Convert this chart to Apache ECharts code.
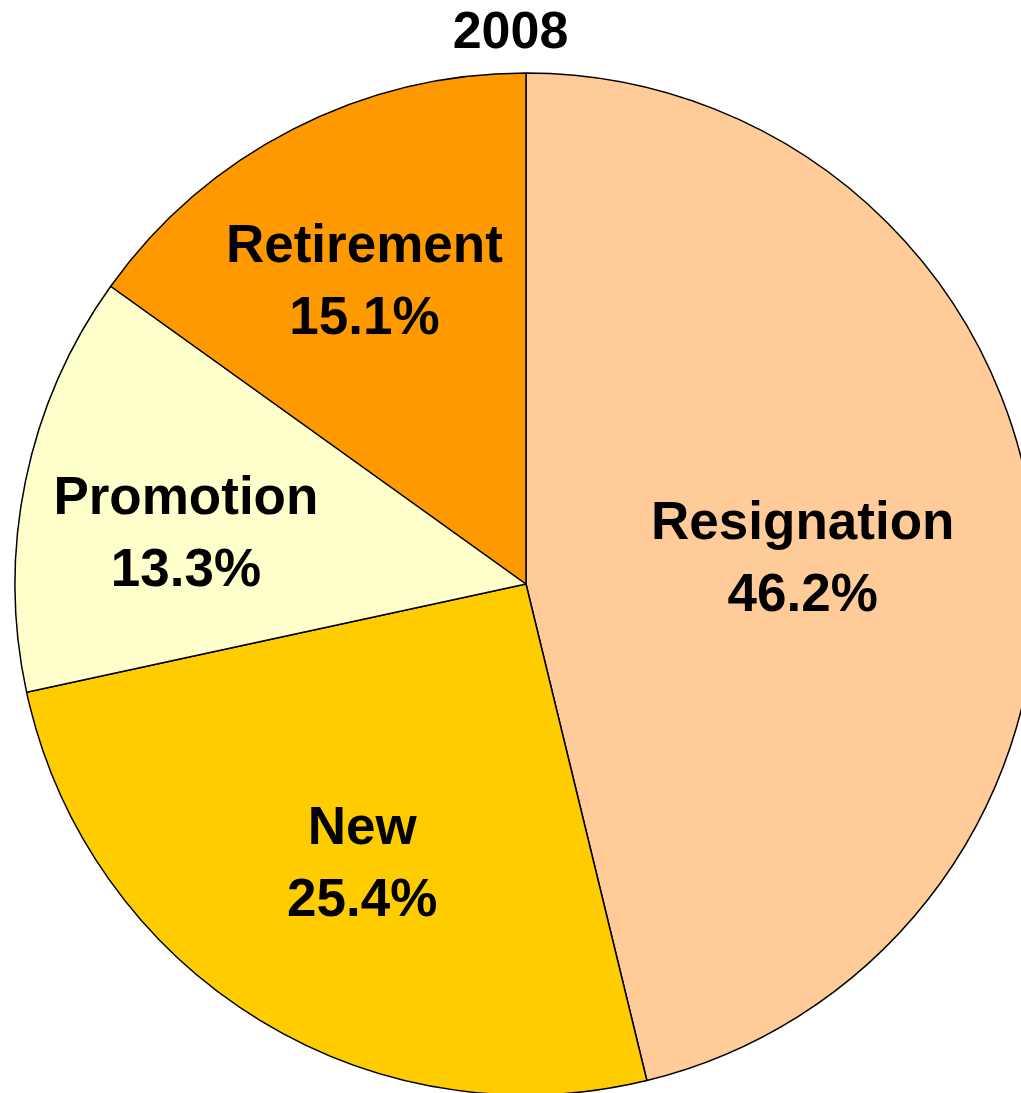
<!DOCTYPE html>
<html>
<head>
<meta charset="utf-8">
<script src="https://cdn.jsdelivr.net/npm/echarts@6/dist/echarts.min.js"></script>
<style>
  html, body { margin: 0; padding: 0; background: #ffffff; }
  #chart { width: 1021px; height: 1093px; }
</style>
</head>
<body>
<div id="chart"></div>
<script>
const title = '2008';
const categories = ['Resignation', 'New', 'Promotion', 'Retirement'];
const values = [46.2, 25.4, 13.3, 15.1];
const colors = ['#FFCC99', '#FFCC00', '#FFFFCC', '#FF9900'];
// label placement: distance from centre (fraction of radius) and angular shift from slice middle (degrees, clockwise)
const labelRadius = [0.544, 0.633, 0.673, 0.672];
const labelAngleShift = [1.4, -1.6, -3.2, -0.9];

const CX = 526, CY = 584, R = 511;
const LABEL_DY = 2.5;

const chart = echarts.init(document.getElementById('chart'));
chart.setOption({
  backgroundColor: '#ffffff',
  animation: false,
  title: {
    text: title,
    left: 'center',
    top: 3,
    textStyle: { fontFamily: 'Liberation Sans, Arial, sans-serif', fontWeight: 'bold', fontSize: 52, color: '#000' }
  },
  series: [{
    type: 'pie',
    center: [CX, CY],
    radius: [0, R],
    startAngle: 90,
    clockwise: true,
    avoidLabelOverlap: false,
    silent: true,
    itemStyle: { borderColor: '#000', borderWidth: 1.5 },
    label: {
      show: true,
      position: 'inside',
      formatter: p => p.name + '\n' + p.value.toFixed(1) + '%',
      fontFamily: 'Liberation Sans, Arial, sans-serif',
      fontWeight: 'bold',
      fontSize: 53,
      lineHeight: 72,
      color: '#000',
      align: 'center',
      verticalAlign: 'middle'
    },
    labelLine: { show: false },
    labelLayout: function (params) {
      const i = params.dataIndex;
      let mid;
      try {
        const lay = chart.getModel().getSeriesByIndex(0).getData().getItemLayout(i);
        mid = (lay.startAngle + lay.endAngle) / 2;
      } catch (e) {
        const r = params.labelRect;
        mid = Math.atan2(r.y + r.height / 2 - CY, r.x + r.width / 2 - CX);
      }
      const a = mid + labelAngleShift[i] * Math.PI / 180;
      const d = labelRadius[i] * R;
      return { x: CX + d * Math.cos(a), y: CY + d * Math.sin(a) + LABEL_DY, align: 'center', verticalAlign: 'middle' };
    },
    data: categories.map((c, i) => ({ name: c, value: values[i], itemStyle: { color: colors[i] } }))
  }]
});
</script>
</body>
</html>
